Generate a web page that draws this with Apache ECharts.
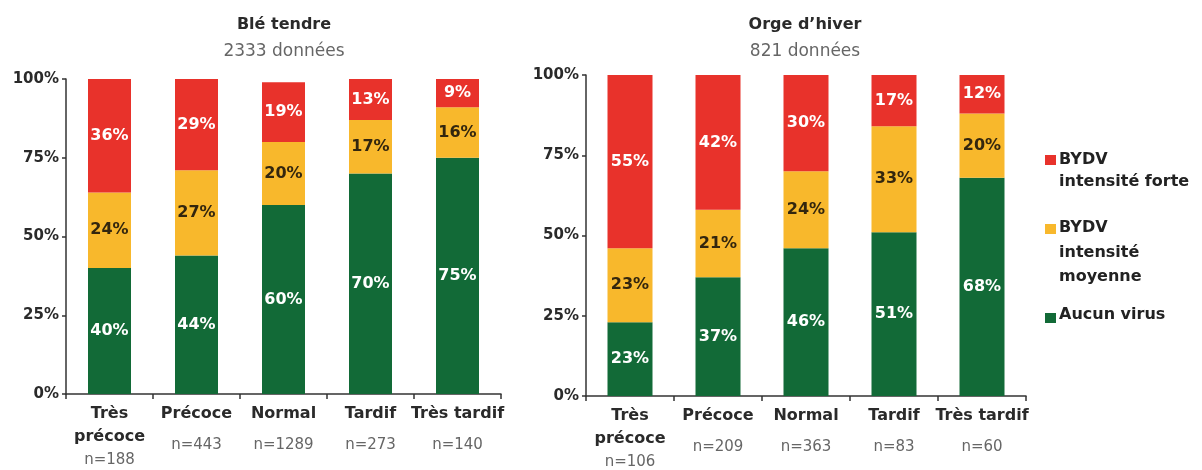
<!DOCTYPE html>
<html><head><meta charset="utf-8">
<script src="https://cdn.jsdelivr.net/npm/echarts@6/dist/echarts.min.js"></script>
<style>html,body{margin:0;padding:0;background:#fff}#c{width:1202px;height:470px}</style>
</head><body><div id="c"></div>
<script>
const categories = ['Très\nprécoce', 'Précoce', 'Normal', 'Tardif', 'Très tardif'];
const bleN = [188, 443, 1289, 273, 140];
const orgeN = [106, 209, 363, 83, 60];
const bleAucun = [40, 44, 60, 70, 75];
const bleMoyenne = [24, 27, 20, 17, 16];
const bleForte = [36, 29, 19, 13, 9];
const orgeAucun = [23, 37, 46, 51, 68];
const orgeMoyenne = [23, 21, 24, 33, 20];
const orgeForte = [55, 42, 30, 17, 12];
const seriesNames = ['Aucun virus', 'BYDV intensité moyenne', 'BYDV intensité forte'];
const titles = [['Blé tendre', '2333 données'], ['Orge d\u2019hiver', '821 données']];

const FONT = 'DejaVu Sans';
const RED = '#e8322b', YEL = '#f8b82c', GRN = '#126a37';

function xFmt(nArr) {
  return function (value, idx) {
    const lines = value.split('\n');
    const nm = lines.map(l => '{a|' + l + '}').join('\n');
    if (lines.length > 1) return nm + '\n{b|n=' + nArr[idx] + '}';
    return nm + '\n{c|n=' + nArr[idx] + '}';
  };
}
function xAxis(gi, nArr) {
  return {
    type: 'category', gridIndex: gi, data: categories,
    axisLine: { lineStyle: { color: '#333', width: 1.5 } },
    axisTick: { show: true, length: 5, lineStyle: { color: '#333', width: 1.5 } },
    axisLabel: {
      margin: 8, interval: 0, formatter: xFmt(nArr),
      rich: {
        a: { fontFamily: FONT, fontWeight: 'bold', fontSize: 16, color: '#2a2a2a', lineHeight: 23 },
        b: { fontFamily: FONT, fontSize: 15, color: '#666', lineHeight: 25 },
        c: { fontFamily: FONT, fontSize: 15, color: '#666', lineHeight: 41 }
      }
    }
  };
}
function yAxis(gi) {
  return {
    type: 'value', gridIndex: gi, min: 0, max: 100, interval: 25,
    splitLine: { show: false },
    axisLine: { show: true, lineStyle: { color: '#333', width: 1.5 } },
    axisTick: { show: true, length: 4, lineStyle: { color: '#333', width: 1.5 } },
    axisLabel: { margin: 7, formatter: '{value}%', fontFamily: FONT, fontWeight: 'bold', fontSize: 15, color: '#2a2a2a' }
  };
}
function bar(name, data, gi, color, labelColor, bw) {
  return {
    name: name, type: 'bar', stack: 's' + gi, xAxisIndex: gi, yAxisIndex: gi,
    data: data, barWidth: bw, itemStyle: { color: color },
    label: { show: true, position: 'inside', formatter: '{c}%', fontFamily: FONT, fontWeight: 'bold', fontSize: 16, color: labelColor }
  };
}
function legendItem(y, color, textY, text, lh) {
  return [
    { type: 'rect', shape: { x: 1045, y: y, width: 11, height: 10 }, style: { fill: color } },
    { type: 'text', x: 1059, y: textY, style: { text: text, font: 'bold 16px ' + FONT, fill: '#222', lineHeight: lh, verticalAlign: 'top' } }
  ];
}

const chart = echarts.init(document.getElementById('c'));
chart.setOption({
  animation: false,
  title: [
    { text: titles[0][0], subtext: titles[0][1], left: 284, top: 15, textAlign: 'center', padding: 0, itemGap: 7,
      textStyle: { fontFamily: FONT, fontWeight: 'bold', fontSize: 16, color: '#2a2a2a', lineHeight: 20 },
      subtextStyle: { fontFamily: FONT, fontSize: 17, color: '#666', lineHeight: 20 } },
    { text: titles[1][0], subtext: titles[1][1], left: 805, top: 15, textAlign: 'center', padding: 0, itemGap: 7,
      textStyle: { fontFamily: FONT, fontWeight: 'bold', fontSize: 16, color: '#2a2a2a', lineHeight: 20 },
      subtextStyle: { fontFamily: FONT, fontSize: 17, color: '#666', lineHeight: 20 } }
  ],
  grid: [
    { left: 66, right: 701, top: 79, bottom: 76 },
    { left: 586, right: 176, top: 75, bottom: 72 }
  ],
  xAxis: [xAxis(0, bleN), xAxis(1, orgeN)],
  yAxis: [yAxis(0), yAxis(1)],
  series: [
    bar(seriesNames[0], bleAucun, 0, GRN, '#fff', 43),
    bar(seriesNames[1], bleMoyenne, 0, YEL, '#33260e', 43),
    bar(seriesNames[2], bleForte, 0, RED, '#fff', 43),
    bar(seriesNames[0], orgeAucun, 1, GRN, '#fff', 45),
    bar(seriesNames[1], orgeMoyenne, 1, YEL, '#33260e', 45),
    bar(seriesNames[2], orgeForte, 1, RED, '#fff', 45)
  ],
  graphic: [].concat(
    legendItem(155, RED, 149, 'BYDV\nintensité forte', 22),
    legendItem(224, YEL, 216, 'BYDV\nintensité\nmoyenne', 24.5),
    legendItem(313, GRN, 304, 'Aucun virus', 22)
  )
});
</script></body></html>
